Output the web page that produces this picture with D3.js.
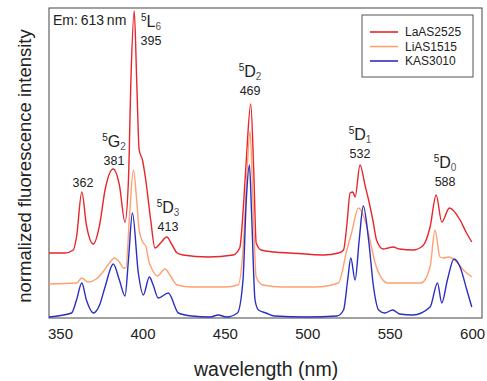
<!DOCTYPE html>
<html>
<head>
<meta charset="utf-8">
<script src="https://cdn.jsdelivr.net/npm/d3@7"></script>
<style>
  body { margin: 0; background: #fff; }
  text { font-family: "Liberation Sans", Arial, sans-serif; fill: #222; }
</style>
</head>
<body>
<div id="chart"></div>
<script>
// excitation spectra (stacked)
const laAS2525 = [
  [343.3,0.65],[353,0.65],[358,0.68],[360,0.81],[363.2,1.26],[366,0.93],[370.2,0.74],[374,0.93],
  [377.3,1.28],[382.3,1.49],[386,1.33],[389.4,0.96],[391.5,1.38],[393,2.38],[395,3.07],[396.5,2.38],
  [398,1.68],[400,1.58],[402,1.38],[405,0.98],[407.6,0.70],[411,0.75],[414.7,0.81],[418,0.73],
  [421,0.65],[424.6,0.63],[440,0.61],[455,0.63],[459,0.70],[461.5,1.18],[463,1.58],[465.7,2.14],
  [467.5,1.48],[469,0.75],[472,0.68],[480,0.66],[490,0.65],[510,0.63],[519,0.65],[522,0.68],
  [524,0.93],[526,1.25],[527.6,1.26],[529,1.21],[532,1.53],[535,1.33],[537.2,1.18],[540,0.96],
  [542,0.78],[546,0.69],[549,0.70],[552,0.71],[556,0.69],[564,0.68],[570,0.72],[574.5,0.91],
  [578.2,1.23],[581.6,0.96],[586.2,1.10],[592.7,0.98],[596.3,0.86],[599.8,0.76]
];
const liAS1515 = [
  [343.3,0.34],[360,0.35],[363.2,0.40],[367,0.36],[372,0.39],[376,0.46],[380,0.55],[383,0.60],
  [386,0.56],[388.5,0.50],[390,0.50],[392,0.98],[394.5,1.48],[396.5,1.18],[398,0.88],[400.5,0.75],
  [402,0.72],[404,0.56],[406,0.48],[409,0.42],[413.7,0.49],[417,0.42],[421,0.33],[430,0.31],
  [450,0.31],[458,0.33],[461,0.68],[463.5,1.48],[465.3,1.87],[467,1.18],[469,0.41],[473,0.33],
  [485,0.31],[505,0.31],[518.9,0.35],[524,0.68],[527,0.86],[531,1.10],[535,0.98],[538,0.78],
  [541,0.56],[545,0.40],[549,0.35],[555,0.35],[569,0.35],[574.5,0.51],[577.5,0.88],[580.5,0.61],
  [582.5,0.60],[585.6,0.61],[590.7,0.56],[594.7,0.48],[599.8,0.41]
];
const kAS3010 = [
  [343.3,0.01],[357,0.05],[360,0.18],[363.2,0.35],[366,0.18],[370.2,0.05],[374,0.13],[377.3,0.31],
  [382.3,0.54],[386,0.38],[389.4,0.22],[391.5,0.58],[393.9,1.05],[397.5,0.45],[400.5,0.23],[404.2,0.41],
  [406.5,0.33],[409.6,0.20],[415.7,0.25],[421.8,0.05],[430,0.02],[441,0.01],[446,0.03],[451,0.01],
  [457.6,0.05],[461,0.38],[463,1.18],[464.9,1.53],[466.2,1.05],[468.3,0.18],[470.4,0.08],[475,0.05],
  [480,0.02],[500,0.01],[518,0.02],[522,0.08],[524.5,0.38],[526.4,0.60],[529,0.38],[531.5,0.78],
  [534,1.12],[537.2,0.78],[540.2,0.31],[543.3,0.08],[547,0.05],[551.8,0.08],[556,0.04],[564,0.03],
  [574.5,0.11],[579,0.35],[581.6,0.15],[585,0.38],[589,0.59],[592.7,0.51],[596.8,0.28],[599.8,0.11]
];
const seriesNames = ["LaAS2525", "LiAS1515", "KAS3010"];
const seriesColors = ["#e8262c", "#ffa070", "#2a2ec2"];
const xTicks = [350, 400, 450, 500, 550, 600];
// peak annotations: level symbol, subscript, wavelength label, label anchor (nm, intensity)
const peakTerms = [
  { sym: "L", sub: "6", nm: "395", w: 405.2, v: 2.73 },
  { sym: "G", sub: "2", nm: "381", w: 382.7, v: 1.53 },
  { sym: "D", sub: "3", nm: "413", w: 415.5, v: 0.87 },
  { sym: "D", sub: "2", nm: "469", w: 465.3, v: 2.23 },
  { sym: "D", sub: "1", nm: "532", w: 532.0, v: 1.60 },
  { sym: "D", sub: "0", nm: "588", w: 583.6, v: 1.32 }
];
const plainPeaks = [{ nm: "362", w: 363.9, v: 1.31 }];

const W = 487, H = 381;
const margin = { top: 8, right: 5, bottom: 63, left: 49 };
const width = W - margin.left - margin.right,
      height = H - margin.top - margin.bottom;

const svg = d3.select("#chart").append("svg")
  .attr("width", W).attr("height", H)
  .append("g")
  .attr("transform", `translate(${margin.left},${margin.top})`);

const x = d3.scaleLinear().domain([343.3, 606]).range([0, width]);
const y = d3.scaleLinear().domain([0, 3.1]).range([height, 0]);

// frame
svg.append("rect")
  .attr("width", width).attr("height", height)
  .attr("fill", "none").attr("stroke", "#444").attr("stroke-width", 1);

// x axis (labels only)
const xAxis = svg.append("g")
  .attr("transform", `translate(0,${height})`)
  .call(d3.axisBottom(x).tickValues(xTicks).tickSize(0).tickPadding(10));
xAxis.select(".domain").remove();
xAxis.selectAll("text")
  .style("font-family", "Liberation Sans, Arial, sans-serif")
  .style("font-size", "15px").attr("fill", "#222");

svg.append("text")
  .attr("x", x(475)).attr("y", height + 58)
  .attr("text-anchor", "middle")
  .style("font-size", "19.5px")
  .text("wavelength (nm)");

svg.append("text")
  .attr("transform", "rotate(-90)")
  .attr("x", -height / 2 - 3).attr("y", -18)
  .attr("text-anchor", "middle")
  .style("font-size", "18.5px")
  .text("normalized fluorescence intensity");

// spectra
const line = d3.line()
  .x(d => x(d[0]))
  .y(d => y(d[1]))
  .curve(d3.curveMonotoneX);

[laAS2525, liAS1515, kAS3010].forEach((s, i) => {
  svg.append("path")
    .datum(s)
    .attr("fill", "none")
    .attr("stroke", seriesColors[i])
    .attr("stroke-width", 1.4)
    .attr("stroke-linejoin", "round")
    .attr("d", line);
});

// annotations
svg.append("text")
  .attr("x", 4).attr("y", 17)
  .style("font-size", "14px")
  .text("Em:\u2009613\u2009nm");

peakTerms.forEach(p => {
  const px = x(p.w), py = y(p.v);
  const t = svg.append("text")
    .attr("x", px).attr("y", py - 18)
    .attr("text-anchor", "middle");
  t.append("tspan").style("font-size", "10px").attr("dy", -6).text("5");
  t.append("tspan").style("font-size", "16px").attr("dy", 6).text(p.sym);
  t.append("tspan").style("font-size", "10px").attr("dy", 3).attr("fill", "#555").text(p.sub);
  svg.append("text")
    .attr("x", px).attr("y", py)
    .attr("text-anchor", "middle")
    .style("font-size", "12.5px")
    .text(p.nm);
});

plainPeaks.forEach(p => {
  svg.append("text")
    .attr("x", x(p.w)).attr("y", y(p.v))
    .attr("text-anchor", "middle")
    .style("font-size", "12.5px")
    .text(p.nm);
});

// legend
const legend = svg.append("g")
  .attr("transform", "translate(313,7)");
legend.append("rect")
  .attr("width", 111).attr("height", 62)
  .attr("fill", "#fff").attr("stroke", "#555").attr("stroke-width", 1);
seriesNames.forEach((name, i) => {
  const ly = 17 + i * 14.5;
  legend.append("line")
    .attr("x1", 8).attr("x2", 36).attr("y1", ly).attr("y2", ly)
    .attr("stroke", seriesColors[i]).attr("stroke-width", 1.6);
  legend.append("text")
    .attr("x", 43).attr("y", ly + 4)
    .style("font-size", "12px")
    .text(name);
});
</script>
</body>
</html>
